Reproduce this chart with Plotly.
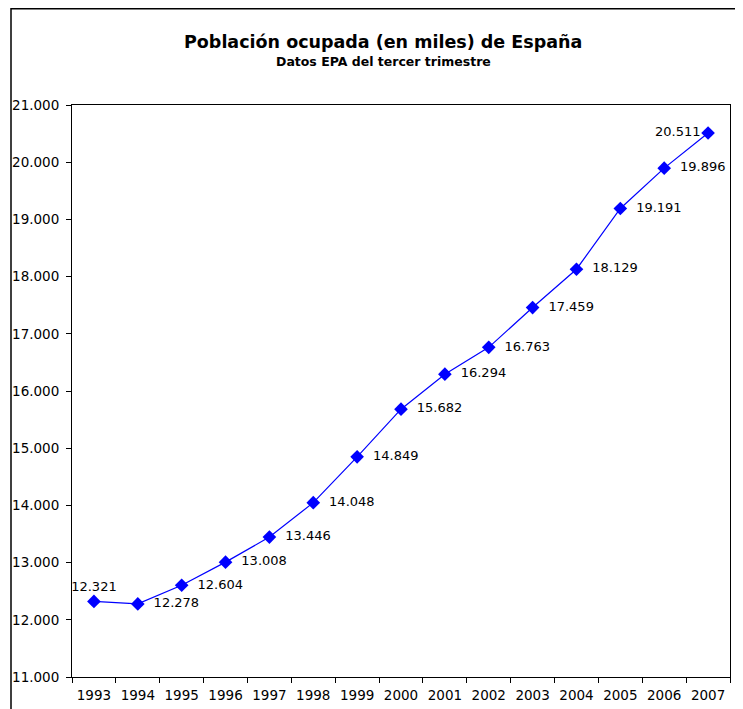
import plotly.graph_objects as go

years = [str(y) for y in range(1993, 2008)]
ocupados = [12321, 12278, 12604, 13008, 13446, 14048, 14849, 15682,
            16294, 16763, 17459, 18129, 19191, 19896, 20511]
y_ticks = list(range(11000, 22000, 1000))


def miles(v):
    # formato español: punto como separador de miles
    return f"{v:,}".replace(",", ".")


labels = [miles(v) for v in ocupados]
positions = ["top center"] + ["middle right"] * 13 + ["middle left"]
# pequeño hueco entre el rombo y la etiqueta
labels = [labels[0]] + ["\u00a0\u00a0" + t for t in labels[1:-1]] + [labels[-1]]

FONT = "DejaVu Sans, Arial, sans-serif"

fig = go.Figure(
    go.Scatter(
        x=years,
        y=ocupados,
        mode="lines+markers+text",
        text=labels,
        textposition=positions,
        textfont=dict(family=FONT, size=13, color="black"),
        line=dict(color="#0000FF", width=1.2),
        marker=dict(symbol="diamond", size=10.5, color="#0000FF"),
        cliponaxis=False,
        hoverinfo="skip",
    )
)

axis_font = dict(family=FONT, size=13.5, color="black")

fig.update_xaxes(
    type="category",
    range=[-0.5, 14.5],
    tickson="boundaries",
    ticks="outside",
    ticklen=5,
    tickcolor="black",
    tickangle=0,
    ticklabelstandoff=6,
    automargin=False,
    showline=True,
    linecolor="black",
    linewidth=1,
    mirror=True,
    showgrid=False,
    tickfont=axis_font,
)
fig.update_yaxes(
    range=[11000, 21000],
    tickvals=y_ticks,
    ticktext=[miles(v) for v in y_ticks],
    ticks="outside",
    ticklen=5,
    tickcolor="black",
    ticklabelstandoff=4,
    automargin=False,
    showline=True,
    linecolor="black",
    linewidth=1,
    mirror=True,
    showgrid=False,
    zeroline=False,
    tickfont=axis_font,
)

# la página HTML deja 8 px de margen en el body
PLOT_W = 735 - 64 - 13
PLOT_H = 701 - 97 - 32

fig.update_layout(
    width=735,
    height=701,
    margin=dict(l=64, r=13, t=97, b=32),
    plot_bgcolor="white",
    paper_bgcolor="white",
    showlegend=False,
    font=dict(family=FONT, color="black"),
    annotations=[
        dict(
            text="<b>Población ocupada (en miles) de España</b>",
            xref="paper", yref="paper",
            x=(383 - 72) / PLOT_W, y=1 + (105 - 42) / PLOT_H,
            xanchor="center", yanchor="middle",
            showarrow=False,
            font=dict(size=17.5),
        ),
        dict(
            text="<b>Datos EPA del tercer trimestre</b>",
            xref="paper", yref="paper",
            x=(383 - 72) / PLOT_W, y=1 + (105 - 61) / PLOT_H,
            xanchor="center", yanchor="middle",
            showarrow=False,
            font=dict(size=12.5),
        ),
    ],
    shapes=[
        # marco exterior del gráfico
        dict(
            type="rect",
            xref="paper", yref="paper",
            x0=(11 - 72) / PLOT_W, x1=1.1,
            y0=-0.2, y1=1 + (105 - 8.7) / PLOT_H,
            line=dict(color="black", width=1.5),
            fillcolor="rgba(0,0,0,0)",
            layer="below",
        )
    ],
)

fig.write_html("out.html")
